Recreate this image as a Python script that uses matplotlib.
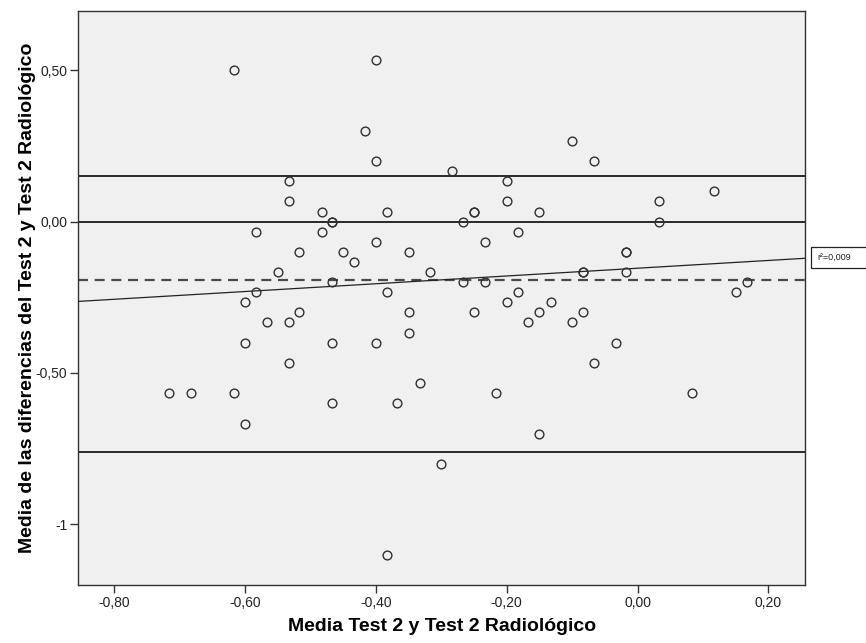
import numpy as np
import matplotlib
matplotlib.use("Agg")
import matplotlib.pyplot as plt
from matplotlib.ticker import FixedLocator
from matplotlib.patches import Rectangle

plt.rcParams['font.family'] = ['Liberation Sans', 'DejaVu Sans']

# Mean of Test 2 and Test 2 Radiológico (x) and difference (y)
x_mean = [-0.617, -0.400, -0.417, -0.400, -0.533, -0.533, -0.483, -0.383, -0.467, -0.467,
          -0.583, -0.483, -0.400, -0.517, -0.450, -0.350, -0.433, -0.550, -0.317, -0.467,
          -0.583, -0.383, -0.600, -0.517, -0.350, -0.567, -0.533, -0.350, -0.600, -0.467,
          -0.400, -0.533, -0.333, -0.717, -0.683, -0.617, -0.467, -0.367, -0.600, -0.383,
          -0.283, -0.100, -0.067, -0.200, -0.200, -0.250, -0.250, -0.150, -0.267, 0.033,
          0.033, 0.117, -0.183, -0.233, -0.017, -0.017, -0.083, -0.083, -0.017, -0.267,
          -0.233, 0.167, 0.150, -0.183, -0.200, -0.133, -0.250, -0.150, -0.083, -0.167,
          -0.100, -0.033, -0.067, -0.217, 0.083, -0.150, -0.300]
y_diff = [0.500, 0.533, 0.300, 0.200, 0.133, 0.067, 0.033, 0.033, 0.000, 0.000,
          -0.033, -0.033, -0.067, -0.100, -0.100, -0.100, -0.133, -0.167, -0.167, -0.200,
          -0.233, -0.233, -0.267, -0.300, -0.300, -0.333, -0.333, -0.367, -0.400, -0.400,
          -0.400, -0.467, -0.533, -0.567, -0.567, -0.567, -0.600, -0.600, -0.667, -1.100,
          0.167, 0.267, 0.200, 0.133, 0.067, 0.033, 0.033, 0.033, 0.000, 0.067,
          0.000, 0.100, -0.033, -0.067, -0.100, -0.100, -0.167, -0.167, -0.167, -0.200,
          -0.200, -0.200, -0.233, -0.233, -0.267, -0.267, -0.300, -0.300, -0.300, -0.333,
          -0.333, -0.400, -0.467, -0.567, -0.567, -0.700, -0.800]

upper_limit = 0.15
lower_limit = -0.76
zero_ref = 0.0
r2_text = "r\u00b2=0,009"

x_ticks = [-0.80, -0.60, -0.40, -0.20, 0.00, 0.20]
x_ticklabels = ["-0,80", "-0,60", "-0,40", "-0,20", "0,00", "0,20"]
y_ticks = [0.50, 0.00, -0.50, -1.0]
y_ticklabels = ["0,50", "0,00", "-0,50", "-1"]

x = np.array(x_mean)
y = np.array(y_diff)

W, H = 866, 643
fig = plt.figure(figsize=(W / 100, H / 100), dpi=100)
ax = fig.add_axes([78.3 / W, 1 - 585 / H, (805 - 78.3) / W, (585 - 11) / H])
ax.set_facecolor('#f0f0f0')

xlim = (-0.855, 0.256)
ax.set_xlim(*xlim)
ax.set_ylim(-1.2, 0.695)

# reference lines
for v in (upper_limit, zero_ref, lower_limit):
    ax.axhline(v, color='#1a1a1a', lw=1.3, zorder=2)
ax.axhline(y.mean(), color='#4a4a4a', lw=1.6, ls=(0, (4.5, 3)), zorder=2)

# regression fit
slope, intercept = np.polyfit(x, y, 1)
xs = np.array(xlim)
ax.plot(xs, intercept + slope * xs, color='#222222', lw=0.9, zorder=3)

ax.plot(x, y, ls='none', marker='o', ms=6.3, mfc='none', mec='#303030', mew=1.0, zorder=4)

ax.xaxis.set_major_locator(FixedLocator(x_ticks))
ax.set_xticklabels(x_ticklabels)
ax.yaxis.set_major_locator(FixedLocator(y_ticks))
ax.set_yticklabels(y_ticklabels)
ax.tick_params(axis='both', direction='out', length=6, width=1.0, color='#333333',
               labelsize=10, labelcolor='#222222', pad=2)

for s in ax.spines.values():
    s.set_color('#333333')
    s.set_linewidth(1.0)

ax.set_xlabel("Media Test 2 y Test 2 Radiológico", fontsize=14, fontweight='bold', labelpad=6)
ax.set_ylabel("Media de las diferencias del Test 2 y Test 2 Radiológico", fontsize=14,
              fontweight='bold', labelpad=0)

# r² annotation box at the right edge
fig.patches.append(Rectangle((811 / W, 1 - 267.5 / H), (W + 5 - 811) / W, 21 / H,
                             transform=fig.transFigure, fc='white', ec='#222222', lw=0.9))
fig.text(817 / W, 1 - 257 / H, r2_text, fontsize=6.5, va='center', ha='left', color='#222222')

fig.savefig("out.png", dpi=100)
